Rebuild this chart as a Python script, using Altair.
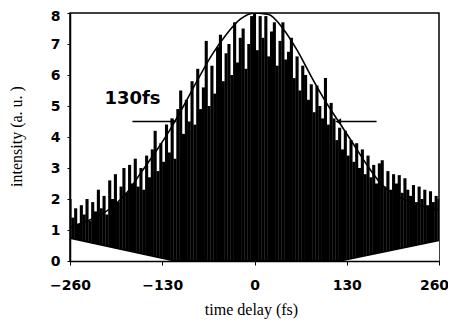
import altair as alt
import pandas as pd

# upper smooth envelope (time delay fs, intensity a.u.)
env_t = [-260, -240, -220, -200, -180, -160, -140, -120, -100, -80, -60, -40, -20, 0,
         20, 40, 60, 80, 100, 120, 140, 160, 180, 200, 220, 240, 260]
env_v = [1.1, 1.25, 1.45, 1.75, 2.2, 2.85, 3.5, 4.2, 5.0, 5.85, 6.65, 7.3, 7.8, 8.0,
         7.95, 7.5, 6.8, 5.95, 5.15, 4.45, 3.75, 3.05, 2.45, 2.1, 1.9, 1.75, 1.65]

# lower envelope (straight segments)
low_t = [-260, -112, 120, 264]
low_v = [0.74, 0.0, 0.0, 0.68]

# fringe peak heights, every 4 fs from -260 to 260
fr_t = list(range(-260, 261, 4))
fr_v = [
    2.0, 1.4, 1.7, 1.2, 1.8,
    1.5, 2.0, 1.3, 1.9, 1.6,
    2.3, 1.7, 2.1, 1.5, 2.6,
    2.0, 2.8, 1.9, 2.4, 3.0,
    2.2, 3.1, 2.5, 3.3, 2.4,
    3.0, 2.3, 3.4, 2.7, 3.6,
    4.2, 2.9, 3.8, 3.2, 4.4,
    3.5, 4.6, 3.3, 4.9, 5.5,
    4.1, 5.2, 4.5, 5.8, 4.4,
    6.2, 4.9, 5.6, 7.1, 5.0,
    6.3, 5.4, 6.9, 7.3, 5.8,
    6.7, 7.0, 6.0, 7.7, 6.4,
    7.2, 7.5, 6.2, 7.0, 7.9,
    8.0, 6.8, 7.9, 7.2, 7.9,
    6.6, 7.4, 7.7, 6.3, 7.1,
    7.7, 6.5, 6.75, 7.2, 5.9,
    6.6, 5.5, 6.3, 6.0, 5.2,
    5.7, 4.8, 5.66, 5.0, 4.6,
    5.9, 4.4, 5.1, 4.6, 3.9,
    4.3, 3.6, 4.2, 3.4, 3.9,
    3.2, 3.8, 3.0, 3.6, 2.8,
    3.4, 2.7, 3.1, 2.5, 3.15,
    3.25, 2.4, 2.9, 2.3, 2.8,
    2.5, 2.77, 2.2, 2.67, 2.3,
    2.1, 2.45, 1.9, 2.4, 2.0,
    2.3, 1.8, 2.25, 1.9, 2.1,
    2.0,
]

x_ticks = [-260, -130, 0, 130, 260]
y_ticks = [0, 1, 2, 3, 4, 5, 6, 7, 8]

# FWHM arrows at 4.5
arrow_x = [-172, 172]
arrow_x2 = [-114, 118]
arrow_y = [4.5, 4.5]
label_txt = ["130fs"]
label_t = [-172]
label_v = [5.24]

xs = alt.Scale(domain=[-260, 260], nice=False)
ys = alt.Scale(domain=[0, 8], nice=False)

x_axis = alt.Axis(values=x_ticks, title="time delay (fs)",
                  labelFont="DejaVu Sans", labelFontWeight="bold", labelFontSize=14,
                  labelColor="black", tickColor="black", domainColor="black",
                  domainWidth=1.5, tickSize=4, labelPadding=13, grid=False,
                  labelOverlap=False, labelFlush=False,
                  labelOffset={"condition": {"test": "datum.value == 260", "value": -5}, "value": 0},
                  titleFont="Liberation Serif", titleFontSize=16, titleFontWeight="normal",
                  titleColor="black", titleX=181, titleY=48, titleBaseline="middle",
                  titleAlign="center", zindex=1)
y_axis = alt.Axis(values=y_ticks, title="intensity (a. u. )", tickCount=9,
                  labelFont="DejaVu Sans", labelFontWeight="bold", labelFontSize=14,
                  labelColor="black", tickColor="black", domainColor="black",
                  domainWidth=1.5, tickSize=3, labelPadding=7, grid=False,
                  labelOverlap=False, labelFlush=False,
                  labelOffset={"condition": {"test": "datum.value == 8", "value": 3}, "value": 0},
                  titleFont="Liberation Serif", titleFontSize=16, titleFontWeight="normal",
                  titleColor="black", titleX=-54, titleY=123, titleAngle=270,
                  titleBaseline="middle", titleAlign="center", zindex=1)


def X(f):
    return alt.X(f, scale=xs, axis=x_axis)


def Y(f):
    return alt.Y(f, scale=ys, axis=y_axis)


fr = pd.DataFrame({"t": fr_t, "v": fr_v, "base": [0] * len(fr_t)})
rules = alt.Chart(fr).mark_rule(color="black", strokeWidth=3.1, clip=True).encode(
    x=X("t:Q"), y=Y("v:Q"), y2="base:Q")

low = pd.DataFrame({"t": low_t, "v": low_v})
white = alt.Chart(low).mark_area(color="white", opacity=1, clip=True).encode(
    x=X("t:Q"), y=Y("v:Q"))
low_line = alt.Chart(low).mark_line(color="black", strokeWidth=1.6, clip=True).encode(
    x=X("t:Q"), y=Y("v:Q"))

env = pd.DataFrame({"t": env_t, "v": env_v})
env_line = alt.Chart(env).mark_line(color="black", strokeWidth=1.6, interpolate="monotone",
                                    clip=True).encode(x=X("t:Q"), y=Y("v:Q"))

arr = pd.DataFrame({"x": arrow_x, "x2": arrow_x2, "y": arrow_y})
arr_lines = alt.Chart(arr).mark_rule(color="black", strokeWidth=1.5).encode(
    x=X("x:Q"), x2="x2:Q", y=Y("y:Q"))
head_r = alt.Chart(arr.iloc[[0]]).mark_point(
    shape="triangle-right", filled=True, color="black", size=45, opacity=1).encode(
    x=X("x2:Q"), y=Y("y:Q"))
head_l = alt.Chart(arr.iloc[[1]]).mark_point(
    shape="triangle-left", filled=True, color="black", size=45, opacity=1).encode(
    x=X("x2:Q"), y=Y("y:Q"))

lab = pd.DataFrame({"txt": label_txt, "t": label_t, "v": label_v})
label = alt.Chart(lab).mark_text(font="DejaVu Sans", fontWeight="bold", fontSize=18,
                                 color="black", baseline="middle", align="center").encode(
    x=X("t:Q"), y=Y("v:Q"), text="txt:N")

chart = alt.layer(rules, white, low_line, env_line, arr_lines, head_r, head_l, label).properties(
    width=369, height=248,
    autosize=alt.AutoSizeParams(type="none"),
    padding={"left": 62, "top": 5, "right": 9, "bottom": 59},
    background="white",
).configure_view(stroke="black", strokeWidth=1.5)

chart.save("out.html", embed_options={"renderer": "svg", "actions": False})
